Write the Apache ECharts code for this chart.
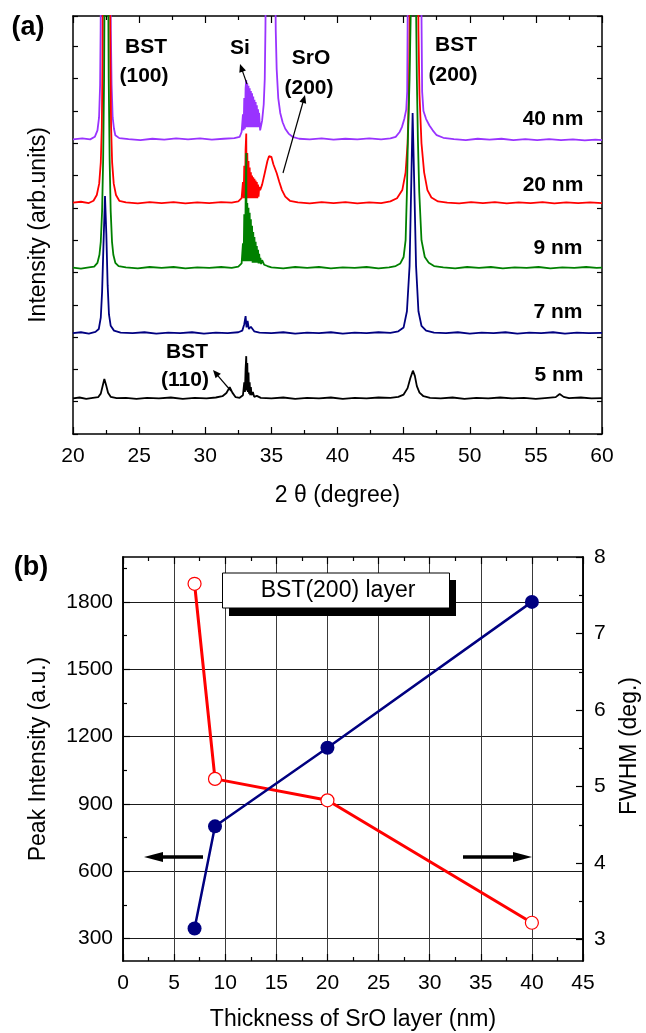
<!DOCTYPE html>
<html>
<head>
<meta charset="utf-8">
<script src="https://cdn.jsdelivr.net/npm/echarts@6/dist/echarts.min.js"></script>
<style>
html,body{margin:0;padding:0;background:#fff;}
#chart{width:646px;height:1033px;}
</style>
</head>
<body>
<div id="chart"></div>
<script>
// ---------- Panel (a): XRD patterns, [2theta (deg), intensity (arb. units, stacked)] ----------
const trace40nm = [
[20,9.12],[20.7,9.15],[21.3,9.12],[21.65,9.2],[21.85,9.4],[21.97,9.8],[22.05,10.8],[22.09,12.5],[22.11,14],[22.84,14],[22.86,12.5],[22.92,10.8],[23.0,9.8],[23.1,9.45],[23.2,9.25],[23.5,9.16],[24.2,9.13],[25.1,9.1],[26.0,9.14],[26.9,9.11],[27.8,9.15],[28.7,9.12],[29.6,9.15],[30.5,9.11],[31.4,9.14],[32.2,9.16],[32.6,9.2],[32.75,9.35],
[32.85,9.9],[32.9,9.4],[32.95,10.4],[33.0,9.45],[33.05,10.7],[33.1,10.96],[33.13,9.5],[33.18,10.85],[33.22,9.5],[33.27,10.78],[33.31,9.5],[33.36,10.7],[33.4,9.5],[33.45,10.62],[33.49,9.5],[33.54,10.55],[33.58,9.5],[33.63,10.45],[33.67,9.5],[33.72,10.35],[33.76,9.5],[33.81,10.28],[33.85,9.5],[33.9,10.18],[33.94,9.5],[33.99,10.05],[34.03,9.5],[34.07,9.94],[34.15,9.4],
[34.3,9.7],[34.42,10.2],[34.5,11],[34.55,12.5],[34.58,14],[35.3,14],[35.33,12.5],[35.4,11.3],[35.52,10.4],[35.67,9.94],[35.85,9.65],[36.05,9.45],[36.3,9.3],[36.6,9.2],[37.1,9.14],[37.9,9.12],[38.8,9.15],[39.7,9.11],[40.6,9.14],[41.5,9.12],[42.4,9.15],[43.3,9.12],[44.0,9.15],[44.4,9.2],[44.7,9.35],[44.87,9.5],[45.05,9.75],[45.2,10.05],[45.27,10.6],[45.3,12.5],[45.32,14],[46.33,14],[46.36,12.5],[46.4,10.6],[46.5,10.0],[46.7,9.75],[46.95,9.55],[47.2,9.4],[47.5,9.25],[48,9.17],[48.8,9.13],[49.7,9.1],[50.6,9.14],[51.5,9.11],[52.4,9.14],[53.3,9.1],[54.2,9.13],[55.1,9.1],[56,9.13],[56.9,9.1],[57.8,9.12],[58.7,9.09],[59.5,9.11],[60,9.1]
];
const trace20nm = [
[20,7.16],[20.6,7.19],[21.2,7.15],[21.55,7.22],[21.8,7.4],[21.98,7.75],[22.1,8.4],[22.18,9.5],[22.23,11.5],[22.26,14],[22.8,14],[22.83,11.5],[22.88,9.5],[22.96,8.4],[23.08,7.75],[23.25,7.4],[23.5,7.22],[24,7.17],[24.9,7.14],[25.8,7.18],[26.7,7.15],[27.6,7.18],[28.5,7.14],[29.4,7.17],[30.3,7.15],[31.2,7.18],[32.0,7.16],[32.5,7.2],[32.75,7.3],
[32.85,7.8],[32.9,7.3],[32.95,8.3],[33.0,7.3],[33.05,8.8],[33.1,9.3],[33.13,7.3],[33.18,8.7],[33.22,7.3],[33.27,8.45],[33.31,7.3],[33.36,8.25],[33.4,7.3],[33.45,8.1],[33.49,7.3],[33.54,8.0],[33.58,7.3],[33.63,7.95],[33.67,7.3],[33.72,7.9],[33.76,7.3],[33.81,7.85],[33.85,7.3],[33.9,7.8],[33.94,7.3],[33.99,7.72],[34.03,7.35],[34.08,7.65],[34.15,7.55],
[34.3,7.72],[34.5,8.08],[34.7,8.45],[34.82,8.6],[34.9,8.64],[35.0,8.58],[35.15,8.35],[35.4,8.08],[35.6,7.8],[35.8,7.55],[36.05,7.35],[36.4,7.22],[37,7.17],[37.9,7.14],[38.8,7.18],[39.7,7.15],[40.6,7.18],[41.5,7.14],[42.4,7.17],[43.3,7.15],[44.0,7.2],[44.5,7.3],[44.9,7.55],[45.15,8.1],[45.3,9.0],[45.4,10.5],[45.45,12.5],[45.47,14],[46.1,14],[46.12,12.5],[46.2,10.5],[46.35,9.0],[46.55,8.1],[46.8,7.55],[47.1,7.32],[47.6,7.2],[48.3,7.16],[49.2,7.14],[50.1,7.18],[51,7.15],[51.9,7.18],[52.8,7.14],[53.7,7.17],[54.6,7.15],[55.5,7.18],[56.4,7.14],[57.3,7.17],[58.2,7.15],[59.1,7.17],[60,7.15]
];
const trace9nm = [
[20,5.15],[20.6,5.12],[21.2,5.16],[21.6,5.18],[21.85,5.3],[22.0,5.55],[22.1,5.95],[22.2,6.9],[22.28,8.5],[22.35,11],[22.39,14],[22.66,14],[22.7,11],[22.77,8.5],[22.85,6.9],[22.95,5.95],[23.05,5.55],[23.2,5.3],[23.45,5.2],[24,5.16],[24.9,5.13],[25.8,5.17],[26.7,5.14],[27.6,5.17],[28.5,5.13],[29.4,5.16],[30.3,5.14],[31.2,5.17],[32.0,5.14],[32.5,5.18],[32.75,5.28],
[32.85,5.9],[32.9,5.35],[32.95,6.8],[33.0,5.35],[33.05,7.1],[33.1,8.7],[33.13,5.35],[33.18,7.15],[33.22,5.35],[33.27,7.0],[33.31,5.35],[33.36,6.85],[33.4,5.35],[33.45,6.65],[33.49,5.35],[33.54,6.45],[33.58,5.3],[33.63,6.25],[33.67,5.3],[33.72,6.1],[33.76,5.3],[33.81,5.95],[33.85,5.3],[33.9,5.82],[33.94,5.3],[33.99,5.7],[34.03,5.28],[34.08,5.58],[34.12,5.28],[34.17,5.45],[34.22,5.26],[34.3,5.38],[34.45,5.24],[34.7,5.2],
[35.0,5.16],[35.9,5.13],[36.8,5.17],[37.7,5.14],[38.6,5.17],[39.5,5.13],[40.4,5.16],[41.3,5.14],[42.2,5.17],[43.1,5.13],[43.9,5.16],[44.4,5.2],[44.75,5.28],[45.0,5.48],[45.15,6.0],[45.25,7.5],[45.32,9.1],[45.45,11],[45.58,14],[45.92,14],[46.0,11],[46.08,9.1],[46.18,7.5],[46.35,6.0],[46.6,5.48],[46.9,5.3],[47.3,5.2],[48,5.16],[48.9,5.13],[49.8,5.17],[50.7,5.14],[51.6,5.17],[52.5,5.13],[53.4,5.16],[54.3,5.14],[55.2,5.17],[56.1,5.13],[57,5.16],[57.9,5.14],[58.8,5.17],[59.6,5.14],[60,5.15]
];
const trace7nm = [
[20,3.12],[20.6,3.15],[21.2,3.11],[21.7,3.16],[21.95,3.25],[22.1,3.6],[22.2,4.4],[22.3,5.8],[22.42,7.37],[22.52,6.2],[22.62,4.6],[22.72,3.7],[22.85,3.35],[23.1,3.2],[23.6,3.14],[24.5,3.12],[25.4,3.15],[26.3,3.11],[27.2,3.14],[28.1,3.12],[29,3.15],[29.9,3.11],[30.8,3.14],[31.7,3.12],[32.5,3.15],[32.8,3.2],[32.95,3.4],[33.05,3.65],[33.12,3.3],[33.2,3.5],[33.3,3.25],[33.45,3.32],[33.7,3.18],[34.1,3.14],[35,3.12],[35.9,3.15],[36.8,3.11],[37.7,3.14],[38.6,3.12],[39.5,3.15],[40.4,3.11],[41.3,3.14],[42.2,3.12],[43.1,3.15],[44,3.13],[44.6,3.18],[45.0,3.3],[45.25,3.8],[45.45,5.2],[45.58,7.8],[45.68,9.94],[45.8,7.8],[45.94,5.2],[46.12,3.8],[46.35,3.35],[46.7,3.2],[47.3,3.14],[48.2,3.12],[49.1,3.15],[50,3.11],[50.9,3.14],[51.8,3.12],[52.7,3.15],[53.6,3.11],[54.5,3.14],[55.4,3.12],[56.3,3.15],[57.2,3.11],[58.1,3.14],[59,3.12],[60,3.13]
];
const trace5nm = [
[20,1.10],[20.5,1.13],[21,1.09],[21.5,1.12],[21.9,1.14],[22.1,1.25],[22.25,1.5],[22.37,1.70],[22.5,1.52],[22.65,1.28],[22.85,1.15],[23.3,1.11],[24,1.12],[24.8,1.09],[25.6,1.12],[26.5,1.10],[27.4,1.13],[28.3,1.09],[29.2,1.12],[30.1,1.10],[30.8,1.13],[31.3,1.17],[31.6,1.27],[31.85,1.45],[32.05,1.28],[32.3,1.14],[32.6,1.12],[32.85,1.2],[32.95,1.6],[33.0,1.3],[33.05,2.0],[33.1,2.41],[33.14,1.35],[33.18,2.2],[33.22,1.3],[33.27,1.9],[33.31,1.25],[33.36,1.6],[33.4,1.2],[33.45,1.45],[33.5,1.2],[33.6,1.3],[33.7,1.15],[33.9,1.18],[34.2,1.12],[35,1.10],[35.9,1.13],[36.8,1.09],[37.7,1.12],[38.6,1.10],[39.5,1.13],[40.4,1.09],[41.3,1.12],[42.2,1.10],[43.1,1.13],[44,1.12],[44.6,1.15],[45.0,1.22],[45.3,1.42],[45.5,1.72],[45.7,1.96],[45.85,1.8],[46.0,1.48],[46.2,1.28],[46.5,1.17],[47,1.12],[47.8,1.10],[48.7,1.13],[49.6,1.09],[50.5,1.12],[51.4,1.10],[52.3,1.13],[53.2,1.10],[54.1,1.12],[55,1.09],[55.9,1.12],[56.5,1.14],[56.8,1.24],[57.1,1.15],[57.5,1.11],[58.4,1.13],[59.2,1.10],[60,1.11]
];
const traceLabels = ['40 nm','20 nm','9 nm','7 nm','5 nm'];
const traceColors = ['#9933ff','#ff0000','#008000','#000080','#000000'];

// ---------- Panel (b): BST(200) layer vs SrO thickness ----------
const thickness = [7, 9, 20, 40];
const peakIntensity = [345, 800, 1150, 1800];
const fwhm = [7.65, 5.10, 4.82, 3.22];
const intensityTicks = [300, 600, 900, 1200, 1500, 1800];
const intensityMinorTicks = [450, 750, 1050, 1350, 1650, 1950];
const fwhmTicks = [3, 4, 5, 6, 7, 8];
const fwhmMinorTicks = [3.5, 4.5, 5.5, 6.5, 7.5];

const FONT = '"Liberation Sans", Arial, Helvetica, sans-serif';
const black = '#000';

const chart = echarts.init(document.getElementById('chart'), null, {renderer:'canvas'});

function frameAxis(extra){
  return Object.assign({
    type:'value',
    axisLine:{show:true,onZero:false,lineStyle:{color:black,width:1.5}},
    axisTick:{show:true,inside:true,length:7,lineStyle:{color:black,width:1.2}},
    axisLabel:{show:false},
    splitLine:{show:false}
  }, extra);
}
const tickLabel = (extra)=>Object.assign({show:true,color:black,fontSize:21,fontFamily:FONT,formatter:(v)=>String(v)},extra);
const nameStyle = {fontSize:23,color:black,fontFamily:FONT};

const xrdSeries = [trace40nm,trace20nm,trace9nm,trace7nm,trace5nm].map((d,i)=>({
  name:traceLabels[i], type:'line', xAxisIndex:0, yAxisIndex:0, data:d,
  showSymbol:false, symbol:'none', clip:true,
  lineStyle:{color:traceColors[i],width:1.8}, z:2+i, silent:true
}));

// Arrow helper for annotations (pixel layout)
function arrow(x1,y1,x2,y2,lw,hl,hw){
  const dx=x2-x1, dy=y2-y1, L=Math.hypot(dx,dy), ux=dx/L, uy=dy/L;
  const bx=x2-ux*hl, by=y2-uy*hl, px=-uy, py=ux;
  return [
    {type:'line',shape:{x1:x1,y1:y1,x2:bx+ux*1,y2:by+uy*1},style:{stroke:black,lineWidth:lw},z:100},
    {type:'polygon',shape:{points:[[x2,y2],[bx+px*hw,by+py*hw],[bx-px*hw,by-py*hw]]},style:{fill:black},z:100}
  ];
}
function txt(t,x,y,size,bold,rot){
  const o = {type:'text',x:x,y:y,z:100,style:{text:t,fill:black,font:(bold?'bold ':'')+size+'px '+FONT,align:'center',verticalAlign:'middle'}};
  if (rot) o.rotation = rot;
  return o;
}

const graphics = [].concat(
  txt('(a)',28,28,27,true),
  txt('BST',146,47,21,true), txt('(100)',144,76,21,true),
  txt('Si',240,48,21,true),
  txt('SrO',311,58,21,true), txt('(200)',309,88,21,true),
  txt('BST',456,45,21,true), txt('(200)',453,75,21,true),
  txt('BST',187,352,21,true), txt('(110)',185,380,21,true),
  txt(traceLabels[0],553,119,21,true),
  txt(traceLabels[1],553,185,21,true),
  txt(traceLabels[2],558,248,21,true),
  txt(traceLabels[3],558,312,21,true),
  txt(traceLabels[4],559,375,21,true),
  arrow(247,84,240,64,1.2,8,3.5),
  arrow(283,173,305,95,1.2,8,3.5),
  arrow(231,391,213,370,1.2,8,3.5),
  txt('(b)',31,568,27,true),
  [{type:'rect',shape:{x:229,y:580,width:227,height:36},style:{fill:black},z:99},
   {type:'rect',shape:{x:222.5,y:573,width:227,height:35},style:{fill:'#fff',stroke:black,lineWidth:1},z:100}],
  txt('BST(200) layer',338,591,23,false),
  txt('FWHM (deg.)',630,746,23,false,Math.PI/2),
  arrow(203,857,144,857,3.5,19,5),
  arrow(463,857,532,857,3.5,19,5)
);

const option = {
  animation:false,
  backgroundColor:'#fff',
  grid:[
    {left:73,top:16,width:529,height:418,containLabel:false,outerBoundsMode:'none'},
    {left:123,top:557,width:460,height:404,containLabel:false,outerBoundsMode:'none'}
  ],
  xAxis:[
    frameAxis({gridIndex:0,position:'bottom',min:20,max:60,interval:5,
      minorTick:{show:true,splitNumber:2,length:4,lineStyle:{color:black,width:1.2}},
      axisLabel:tickLabel({margin:12}),
      name:'2 θ (degree)',nameLocation:'middle',nameGap:50,nameTextStyle:nameStyle}),
    frameAxis({gridIndex:0,position:'top',min:20,max:60,interval:5,
      minorTick:{show:true,splitNumber:2,length:4,lineStyle:{color:black,width:1.2}}}),
    frameAxis({gridIndex:1,position:'bottom',min:0,max:45,interval:5,
      minorTick:{show:true,splitNumber:2,length:4,lineStyle:{color:black,width:1.2}},
      splitLine:{show:true,lineStyle:{color:'#3a3a3a',width:1}},
      axisLabel:tickLabel({margin:12}),
      name:'Thickness of SrO layer (nm)',nameLocation:'middle',nameGap:47,nameTextStyle:nameStyle}),
    frameAxis({gridIndex:1,position:'top',min:0,max:45,interval:5,
      minorTick:{show:true,splitNumber:2,length:4,lineStyle:{color:black,width:1.2}}})
  ],
  yAxis:[
    frameAxis({gridIndex:0,position:'left',min:0,max:12.94,interval:1,
      axisTick:{show:true,inside:true,length:5,lineStyle:{color:black,width:1.2}},
      name:'Intensity (arb.units)',nameLocation:'middle',nameGap:23,nameTextStyle:nameStyle}),
    frameAxis({gridIndex:0,position:'right',min:0,max:12.94,interval:1,
      axisTick:{show:true,inside:true,length:5,lineStyle:{color:black,width:1.2}}}),
    frameAxis({gridIndex:1,position:'left',min:200,max:2000,
      axisTick:{show:true,inside:true,length:7,customValues:intensityTicks,lineStyle:{color:black,width:1.2}},
      splitLine:{show:true,lineStyle:{color:'#1a1a1a',width:1}},
      axisLabel:tickLabel({margin:10,customValues:intensityTicks}),
      name:'Peak Intensity (a.u.)',nameLocation:'middle',nameGap:73,nameTextStyle:nameStyle}),
    frameAxis({gridIndex:1,position:'left',min:200,max:2000,
      axisTick:{show:true,inside:true,length:4,customValues:intensityMinorTicks,lineStyle:{color:black,width:1.2}}}),
    frameAxis({gridIndex:1,position:'right',min:2.72,max:8,
      axisTick:{show:true,inside:true,length:7,customValues:fwhmTicks,lineStyle:{color:black,width:1.2}},
      axisLabel:tickLabel({margin:11,customValues:fwhmTicks})}),
    frameAxis({gridIndex:1,position:'right',min:2.72,max:8,
      axisTick:{show:true,inside:true,length:4,customValues:fwhmMinorTicks,lineStyle:{color:black,width:1.2}}})
  ],
  series: xrdSeries.concat([
    {name:'FWHM',type:'line',xAxisIndex:2,yAxisIndex:4,
      data:thickness.map((t,i)=>[t,fwhm[i]]),
      symbol:'circle',symbolSize:13,showSymbol:true,
      lineStyle:{color:'#ff0000',width:3},
      itemStyle:{color:'#ffffff',borderColor:'#ff0000',borderWidth:1.2},z:5},
    {name:'Peak Intensity',type:'line',xAxisIndex:2,yAxisIndex:2,
      data:thickness.map((t,i)=>[t,peakIntensity[i]]),
      symbol:'circle',symbolSize:14,showSymbol:true,
      lineStyle:{color:'#000080',width:2.5},
      itemStyle:{color:'#000080'},z:6}
  ]),
  graphic:graphics
};
chart.setOption(option);
</script>
</body>
</html>
